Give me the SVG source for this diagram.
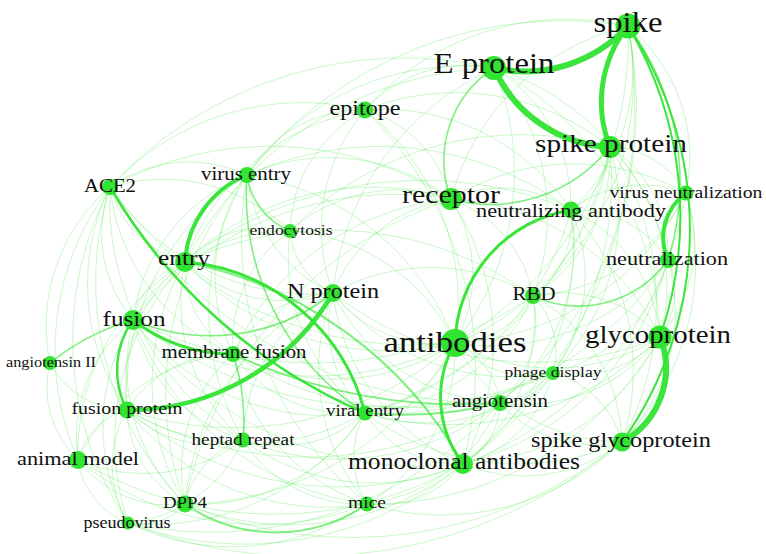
<svg xmlns="http://www.w3.org/2000/svg" width="766" height="554" viewBox="0 0 766 554">
<style>
path{fill:none;stroke:#30e430;stroke-linecap:round}
.f path{stroke-opacity:.26;stroke-width:1}
.m path{stroke-opacity:.6;stroke-width:1.6}
.k path{stroke-opacity:.95}
circle{fill:#30e430}
text{font-family:"Liberation Serif","Times New Roman",serif;fill:#111;text-anchor:middle}
</style>
<rect width="766" height="554" fill="#fff"/>
<g id="edges">
<g class="f">
<path d="M628 26 A190 190 0 0 1 571 210"/><path d="M628 26 A170 170 0 0 1 686 193"/><path d="M628 26 A240 240 0 0 0 451 199"/><path d="M628 26 A350 350 0 0 1 455 343"/><path d="M628 26 A270 270 0 0 0 365 110"/><path d="M628 26 A400 400 0 0 0 247 175"/><path d="M628 26 A280 280 0 0 1 533 296"/><path d="M628 26 A460 460 0 0 1 463 464"/><path d="M628 26 A390 390 0 0 1 500 403"/>
<path d="M494 68 A135 135 0 0 0 365 110"/><path d="M494 68 A160 160 0 0 1 571 210"/><path d="M494 68 A265 265 0 0 0 247 175"/><path d="M494 68 A275 275 0 0 1 455 343"/><path d="M494 68 A230 230 0 0 1 533 296"/><path d="M494 68 A275 275 0 0 0 333 293"/><path d="M494 68 A360 360 0 0 0 185 262"/><path d="M494 68 A310 310 0 0 1 660 337"/><path d="M494 68 A255 255 0 0 1 668 260"/><path d="M494 68 A400 400 0 0 0 110 187"/>
<path d="M610 147 A75 75 0 0 1 571 210"/><path d="M610 147 A165 165 0 0 1 533 296"/><path d="M610 147 A245 245 0 0 1 455 343"/><path d="M610 147 A195 195 0 0 1 660 337"/><path d="M610 147 A290 290 0 0 1 622 442"/><path d="M610 147 A125 125 0 0 1 668 260"/><path d="M610 147 A88 88 0 0 1 686 193"/><path d="M610 147 A245 245 0 0 0 365 110"/><path d="M610 147 A355 355 0 0 1 365 413"/><path d="M610 147 A345 345 0 0 1 463 464"/><path d="M610 147 A325 325 0 0 0 290 231"/><path d="M610 147 A230 230 0 0 1 553 373"/>
<path d="M451 199 A120 120 0 0 1 571 210"/><path d="M451 199 A140 140 0 0 1 455 343"/><path d="M451 199 A335 335 0 0 0 110 187"/><path d="M451 199 A270 270 0 0 0 185 262"/><path d="M451 199 A200 200 0 0 0 247 175"/><path d="M451 199 A150 150 0 0 0 333 293"/><path d="M451 199 A125 125 0 0 1 533 296"/><path d="M451 199 A335 335 0 0 0 133 320"/><path d="M451 199 A265 265 0 0 0 233 354"/><path d="M451 199 A400 400 0 0 0 185 504"/><path d="M451 199 A230 230 0 0 1 686 193"/><path d="M451 199 A245 245 0 0 1 660 337"/><path d="M451 199 A260 260 0 0 1 463 464"/><path d="M451 199 A122 122 0 0 0 365 110"/><path d="M451 199 A160 160 0 0 0 290 231"/>
<path d="M571 210 A92 92 0 0 1 533 296"/><path d="M571 210 A108 108 0 0 1 668 260"/><path d="M571 210 A115 115 0 0 1 686 193"/><path d="M571 210 A152 152 0 0 1 660 337"/><path d="M571 210 A270 270 0 0 1 463 464"/><path d="M571 210 A235 235 0 0 1 622 442"/><path d="M571 210 A285 285 0 0 1 365 413"/><path d="M571 210 A385 385 0 0 0 185 262"/><path d="M571 210 A203 203 0 0 1 500 403"/><path d="M571 210 A160 160 0 0 1 553 373"/><path d="M571 210 A320 320 0 0 0 247 175"/>
<path d="M686 193 A145 145 0 0 1 660 337"/><path d="M686 193 A255 255 0 0 1 622 442"/><path d="M686 193 A270 270 0 0 1 455 343"/><path d="M686 193 A180 180 0 0 1 533 296"/><path d="M686 193 A345 345 0 0 1 463 464"/>
<path d="M668 260 A76 76 0 0 1 660 337"/><path d="M668 260 A225 225 0 0 1 455 343"/><path d="M668 260 A285 285 0 0 1 463 464"/><path d="M668 260 A185 185 0 0 1 622 442"/><path d="M668 260 A158 158 0 0 1 553 373"/><path d="M668 260 A335 335 0 0 1 365 413"/>
<path d="M533 296 A90 90 0 0 1 455 343"/><path d="M533 296 A130 130 0 0 1 660 337"/><path d="M533 296 A168 168 0 0 1 622 442"/><path d="M533 296 A180 180 0 0 1 463 464"/><path d="M533 296 A198 198 0 0 0 333 293"/><path d="M533 296 A345 345 0 0 0 185 262"/><path d="M533 296 A395 395 0 0 1 133 320"/><path d="M533 296 A79 79 0 0 1 553 373"/><path d="M533 296 A110 110 0 0 1 500 403"/><path d="M533 296 A200 200 0 0 1 365 413"/>
<path d="M660 337 A200 200 0 0 1 455 343"/><path d="M660 337 A230 230 0 0 1 463 464"/><path d="M660 337 A110 110 0 0 1 553 373"/><path d="M660 337 A170 170 0 0 1 500 403"/><path d="M660 337 A325 325 0 0 1 333 293"/><path d="M660 337 A300 300 0 0 1 365 413"/><path d="M660 337 A330 330 0 0 1 367 504"/>
<path d="M622 442 A158 158 0 0 1 463 464"/><path d="M622 442 A190 190 0 0 1 455 343"/><path d="M622 442 A126 126 0 0 1 500 403"/><path d="M622 442 A258 258 0 0 1 367 504"/><path d="M622 442 A490 490 0 0 1 128 523"/><path d="M622 442 A430 430 0 0 1 185 504"/><path d="M622 442 A255 255 0 0 1 365 413"/><path d="M622 442 A96 96 0 0 0 553 373"/>
<path d="M455 343 A130 130 0 0 1 333 293"/><path d="M455 343 A112 112 0 0 1 365 413"/><path d="M455 343 A74 74 0 0 1 500 403"/><path d="M455 343 A100 100 0 0 0 553 373"/><path d="M455 343 A218 218 0 0 1 233 354"/><path d="M455 343 A318 318 0 0 1 133 320"/><path d="M455 343 A278 278 0 0 1 185 262"/><path d="M455 343 A180 180 0 0 1 367 504"/><path d="M455 343 A330 330 0 0 1 127 410"/><path d="M455 343 A372 372 0 0 1 110 187"/><path d="M455 343 A310 310 0 0 1 185 504"/><path d="M455 343 A262 262 0 0 0 247 175"/>
<path d="M463 464 A108 108 0 0 1 365 413"/><path d="M463 464 A102 102 0 0 1 367 504"/><path d="M463 464 A70 70 0 0 0 500 403"/><path d="M463 464 A126 126 0 0 0 553 373"/><path d="M463 464 A335 335 0 0 1 128 523"/><path d="M463 464 A380 380 0 0 1 78 460"/><path d="M463 464 A276 276 0 0 1 185 504"/><path d="M463 464 A335 335 0 0 1 127 410"/><path d="M463 464 A218 218 0 0 1 243 440"/><path d="M463 464 A212 212 0 0 1 333 293"/><path d="M463 464 A355 355 0 0 1 133 320"/>
<path d="M500 403 A60 60 0 0 0 553 373"/><path d="M500 403 A165 165 0 0 1 367 504"/><path d="M500 403 A368 368 0 0 1 127 410"/><path d="M500 403 A255 255 0 0 1 243 440"/><path d="M500 403 A196 196 0 0 1 333 293"/><path d="M500 403 A440 440 0 0 1 110 187"/>
<path d="M553 373 A188 188 0 0 1 365 413"/><path d="M553 373 A230 230 0 0 1 333 293"/><path d="M553 373 A415 415 0 0 1 133 320"/><path d="M553 373 A315 315 0 0 1 233 354"/>
<path d="M365 413 A122 122 0 0 1 333 293"/><path d="M365 413 A142 142 0 0 1 233 354"/><path d="M365 413 A245 245 0 0 1 133 320"/><path d="M365 413 A90 90 0 0 0 367 504"/><path d="M365 413 A122 122 0 0 1 243 440"/><path d="M365 413 A235 235 0 0 1 127 410"/><path d="M365 413 A198 198 0 0 1 185 504"/><path d="M365 413 A195 195 0 0 1 290 231"/>
<path d="M333 293 A115 115 0 0 0 233 354"/><path d="M333 293 A148 148 0 0 1 185 262"/><path d="M333 293 A144 144 0 0 1 247 175"/><path d="M333 293 A74 74 0 0 1 290 231"/><path d="M333 293 A170 170 0 0 0 243 440"/><path d="M333 293 A242 242 0 0 1 110 187"/><path d="M333 293 A210 210 0 0 0 367 504"/><path d="M333 293 A255 255 0 0 0 185 504"/>
<path d="M233 354 A102 102 0 0 1 185 262"/><path d="M233 354 A118 118 0 0 0 127 410"/><path d="M233 354 A155 155 0 0 0 185 504"/><path d="M233 354 A185 185 0 0 0 78 460"/><path d="M233 354 A176 176 0 0 1 247 175"/><path d="M233 354 A204 204 0 0 1 110 187"/><path d="M233 354 A198 198 0 0 0 367 504"/><path d="M233 354 A134 134 0 0 1 290 231"/>
<path d="M133 320 A77 77 0 0 1 185 262"/><path d="M133 320 A160 160 0 0 0 243 440"/><path d="M133 320 A148 148 0 0 0 78 460"/><path d="M133 320 A188 188 0 0 0 185 504"/><path d="M133 320 A180 180 0 0 1 247 175"/><path d="M133 320 A133 133 0 0 1 110 187"/><path d="M133 320 A200 200 0 0 0 128 523"/><path d="M133 320 A292 292 0 0 0 367 504"/><path d="M133 320 A177 177 0 0 1 290 231"/>
<path d="M185 262 A104 104 0 0 1 110 187"/><path d="M185 262 A107 107 0 0 1 290 231"/><path d="M185 262 A156 156 0 0 0 127 410"/><path d="M185 262 A184 184 0 0 0 243 440"/><path d="M185 262 A222 222 0 0 0 78 460"/><path d="M185 262 A262 262 0 0 0 128 523"/><path d="M185 262 A238 238 0 0 0 185 504"/><path d="M185 262 A232 232 0 0 1 365 110"/>
<path d="M110 187 A135 135 0 0 1 247 175"/><path d="M110 187 A182 182 0 0 1 290 231"/><path d="M110 187 A270 270 0 0 0 78 460"/><path d="M110 187 A330 330 0 0 0 128 523"/><path d="M110 187 A220 220 0 0 0 127 410"/><path d="M110 187 A320 320 0 0 0 185 504"/><path d="M110 187 A280 280 0 0 0 243 440"/><path d="M110 187 A182 182 0 0 0 50 363"/><path d="M110 187 A262 262 0 0 1 365 110"/>
<path d="M247 175 A132 132 0 0 1 365 110"/><path d="M247 175 A260 260 0 0 0 243 440"/><path d="M247 175 A260 260 0 0 0 127 410"/><path d="M247 175 A345 345 0 0 0 367 504"/><path d="M247 175 A330 330 0 0 0 185 504"/>
<path d="M365 110 A140 140 0 0 0 290 231"/><path d="M365 110 A182 182 0 0 0 333 293"/><path d="M365 110 A245 245 0 0 1 455 343"/><path d="M365 110 A360 360 0 0 1 463 464"/><path d="M365 110 A225 225 0 0 1 571 210"/>
<path d="M243 440 A118 118 0 0 1 127 410"/><path d="M243 440 A85 85 0 0 0 185 504"/><path d="M243 440 A137 137 0 0 0 367 504"/><path d="M243 440 A140 140 0 0 1 128 523"/><path d="M243 440 A163 163 0 0 1 78 460"/>
<path d="M127 410 A69 69 0 0 0 78 460"/><path d="M127 410 A111 111 0 0 0 128 523"/><path d="M127 410 A108 108 0 0 0 185 504"/><path d="M127 410 A253 253 0 0 0 367 504"/><path d="M127 410 A88 88 0 0 1 50 363"/>
<path d="M78 460 A79 79 0 0 0 128 523"/><path d="M78 460 A114 114 0 0 0 185 504"/><path d="M78 460 A287 287 0 0 0 367 504"/><path d="M78 460 A99 99 0 0 1 50 363"/>
<path d="M185 504 A59 59 0 0 1 128 523"/><path d="M128 523 A236 236 0 0 0 367 504"/><path d="M128 523 A256 256 0 0 0 365 413"/><path d="M128 523 A385 385 0 0 0 500 403"/><path d="M290 231 A195 195 0 0 1 455 343"/>
</g>
<g class="m">
<path d="M247 175 A70 70 0 0 0 290 231"/>
<path d="M365 413 A262 262 0 0 1 247 175"/>
<path d="M133 320 A198 198 0 0 0 333 293"/>
<path d="M533 296 A110 110 0 0 0 668 260"/>
<path d="M185 262 A410 410 0 0 1 463 464" style="stroke-width:2.2"/>
<path d="M233 354 A540 540 0 0 0 500 403" style="stroke-width:1.8"/>
<path d="M365 413 A405 405 0 0 0 500 403" style="stroke-width:2"/>
<path d="M628 26 A260 260 0 0 1 668 260"/>
<path d="M494 68 A110 110 0 0 0 451 199"/>
<path d="M451 199 A152 152 0 0 0 610 147"/>
<path d="M233 354 A217 217 0 0 1 243 440"/>
<path d="M133 320 A233 233 0 0 0 50 363"/>
<path d="M185 504 A160 160 0 0 0 367 504" style="stroke-width:2"/>
</g>
<g class="k">
<path d="M494 68 A140 140 0 0 0 628 26" style="stroke-width:6"/>
<path d="M494 68 A133 133 0 0 0 610 147" style="stroke-width:6"/>
<path d="M628 26 A122 122 0 0 0 610 147" style="stroke-width:5"/>
<path d="M660 337 A84 84 0 0 1 622 442" style="stroke-width:6"/>
<path d="M686 193 A55 55 0 0 0 668 260" style="stroke-width:4"/>
<path d="M333 293 A237 237 0 0 1 127 410" style="stroke-width:4.5"/>
<path d="M247 175 A100 100 0 0 0 185 262" style="stroke-width:4"/>
<path d="M455 343 A110 110 0 0 0 463 464" style="stroke-width:3"/>
<path d="M571 210 A138 138 0 0 0 455 343" style="stroke-width:3"/>
<path d="M133 320 A160 160 0 0 0 233 354" style="stroke-width:3"/>
<path d="M133 320 A86 86 0 0 0 127 410" style="stroke-width:2.5"/>
<path d="M110 187 A545 545 0 0 0 365 413" style="stroke-width:2.5"/>
<path d="M185 262 A202 202 0 0 1 365 413" style="stroke-width:3"/>
<path d="M628 26 A371 371 0 0 1 660 337" style="stroke-width:2"/>
<path d="M628 26 A366 366 0 0 1 622 442" style="stroke-width:2"/>
</g>
</g>
<g id="n-pseudovirus"><circle cx="128" cy="523" r="6.5"/><text x="127" y="528" font-size="15.7" textLength="87" lengthAdjust="spacingAndGlyphs">pseudovirus</text></g>
<g id="n-angiotensin-ii"><circle cx="50" cy="363" r="7"/><text x="51" y="367" font-size="14.2" textLength="90" lengthAdjust="spacingAndGlyphs">angiotensin II</text></g>
<g id="n-endocytosis"><circle cx="290" cy="231" r="7"/><text x="291" y="235" font-size="15.3" textLength="83" lengthAdjust="spacingAndGlyphs">endocytosis</text></g>
<g id="n-phage-display"><circle cx="553" cy="373" r="7"/><text x="553" y="377" font-size="15.3" textLength="97" lengthAdjust="spacingAndGlyphs">phage display</text></g>
<g id="n-heptad-repeat"><circle cx="243" cy="440" r="7.5"/><text x="243" y="445" font-size="16.7" textLength="103" lengthAdjust="spacingAndGlyphs">heptad repeat</text></g>
<g id="n-viral-entry"><circle cx="365" cy="413" r="7.5"/><text x="365" y="416" font-size="16.4" textLength="78" lengthAdjust="spacingAndGlyphs">viral entry</text></g>
<g id="n-mice"><circle cx="367" cy="504" r="7.5"/><text x="367" y="508" font-size="17" textLength="38" lengthAdjust="spacingAndGlyphs">mice</text></g>
<g id="n-virus-neutralization"><circle cx="686" cy="193" r="7.5"/><text x="686" y="198" font-size="17.2" textLength="153" lengthAdjust="spacingAndGlyphs">virus neutralization</text></g>
<g id="n-angiotensin"><circle cx="500" cy="403" r="8"/><text x="500" y="407" font-size="18.1" textLength="96" lengthAdjust="spacingAndGlyphs">angiotensin</text></g>
<g id="n-membrane-fusion"><circle cx="233" cy="354" r="8"/><text x="234" y="358" font-size="18.1" textLength="145" lengthAdjust="spacingAndGlyphs">membrane fusion</text></g>
<g id="n-ace2"><circle cx="110" cy="187" r="8"/><text x="110" y="192" font-size="18.1" textLength="52" lengthAdjust="spacingAndGlyphs">ACE2</text></g>
<g id="n-virus-entry"><circle cx="247" cy="175" r="8"/><text x="246" y="180" font-size="18.2" textLength="90" lengthAdjust="spacingAndGlyphs">virus entry</text></g>
<g id="n-rbd"><circle cx="533" cy="296" r="8"/><text x="534" y="300" font-size="18.2" textLength="43" lengthAdjust="spacingAndGlyphs">RBD</text></g>
<g id="n-neutralization"><circle cx="668" cy="260" r="8"/><text x="667" y="265" font-size="19.3" textLength="122" lengthAdjust="spacingAndGlyphs">neutralization</text></g>
<g id="n-fusion-protein"><circle cx="127" cy="410" r="8.5"/><text x="127" y="414" font-size="17.3" textLength="111" lengthAdjust="spacingAndGlyphs">fusion protein</text></g>
<g id="n-dpp4"><circle cx="185" cy="504" r="8.5"/><text x="185" y="508" font-size="16.4" textLength="44" lengthAdjust="spacingAndGlyphs">DPP4</text></g>
<g id="n-epitope"><circle cx="365" cy="110" r="8.5"/><text x="365" y="115" font-size="21" textLength="71" lengthAdjust="spacingAndGlyphs">epitope</text></g>
<g id="n-animal-model"><circle cx="78" cy="460" r="9"/><text x="78" y="465" font-size="19.4" textLength="122" lengthAdjust="spacingAndGlyphs">animal model</text></g>
<g id="n-neutralizing-antibody"><circle cx="571" cy="210" r="8.5"/><text x="571" y="217" font-size="19.4" textLength="190" lengthAdjust="spacingAndGlyphs">neutralizing antibody</text></g>
<g id="n-n-protein"><circle cx="333" cy="293" r="9"/><text x="333" y="298" font-size="21" textLength="92" lengthAdjust="spacingAndGlyphs">N protein</text></g>
<g id="n-entry"><circle cx="185" cy="262" r="10"/><text x="184" y="265" font-size="22" textLength="52" lengthAdjust="spacingAndGlyphs">entry</text></g>
<g id="n-fusion"><circle cx="133" cy="320" r="10"/><text x="134" y="326" font-size="21.9" textLength="63" lengthAdjust="spacingAndGlyphs">fusion</text></g>
<g id="n-spike-glycoprotein"><circle cx="622" cy="442" r="9.5"/><text x="621" y="447" font-size="21.1" textLength="180" lengthAdjust="spacingAndGlyphs">spike glycoprotein</text></g>
<g id="n-monoclonal-antibodies"><circle cx="463" cy="464" r="10"/><text x="464" y="469" font-size="22.3" textLength="232" lengthAdjust="spacingAndGlyphs">monoclonal antibodies</text></g>
<g id="n-receptor"><circle cx="451" cy="199" r="11"/><text x="451" y="203" font-size="26" textLength="98" lengthAdjust="spacingAndGlyphs">receptor</text></g>
<g id="n-spike-protein"><circle cx="610" cy="147" r="11"/><text x="611" y="152" font-size="25.5" textLength="152" lengthAdjust="spacingAndGlyphs">spike protein</text></g>
<g id="n-glycoprotein"><circle cx="660" cy="337" r="11.5"/><text x="658" y="343" font-size="25.1" textLength="146" lengthAdjust="spacingAndGlyphs">glycoprotein</text></g>
<g id="n-e-protein"><circle cx="494" cy="68" r="12"/><text x="494" y="73" font-size="28.5" textLength="121" lengthAdjust="spacingAndGlyphs">E protein</text></g>
<g id="n-spike"><circle cx="628" cy="26" r="12.5"/><text x="628" y="32" font-size="28.4" textLength="69" lengthAdjust="spacingAndGlyphs">spike</text></g>
<g id="n-antibodies"><circle cx="455" cy="343" r="14"/><text x="455" y="352" font-size="30.3" textLength="143" lengthAdjust="spacingAndGlyphs">antibodies</text></g>
</svg>
